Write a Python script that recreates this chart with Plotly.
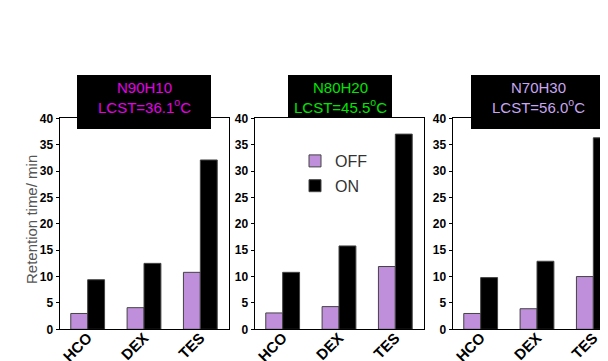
import plotly.graph_objects as go

# The page is drawn with an 8 px body margin; figure is sized to fill the rest
OFFSET = 8
W, H = 608 - OFFSET, 361 - OFFSET

categories = ["HCO", "DEX", "TES"]
panel_names = ["N90H10", "N80H20", "N70H30"]
lcst_labels = ["36.1", "45.5", "56.0"]
off_values = [
    [3.0, 4.1, 10.8],
    [3.1, 4.3, 11.9],
    [3.0, 3.9, 10.0],
]
on_values = [
    [9.4, 12.5, 32.1],
    [10.8, 15.8, 37.0],
    [9.8, 12.9, 36.3],
]
y_ticks = [0, 5, 10, 15, 20, 25, 30, 35, 40]

title_colors = ["#e600e6", "#00e600", "#c8a6f2"]
OFF_COLOR = "#bf8fdb"
ON_COLOR = "#000000"
FONT = "Liberation Sans, Arial, sans-serif"

def px(x):
    return (x - OFFSET) / W

def py(y):
    return 1 - (y - OFFSET) / H

# plot area geometry in page pixels
x_domains = [(59.5, 228.5), (254.5, 424.0), (452.5, 608.0)]
y_top, y_bot = 118.3, 329.3
cat_px = 169.0 / 3

fig = go.Figure()
for i in range(3):
    ax = "" if i == 0 else str(i + 1)
    fig.add_trace(go.Bar(
        x=categories, y=off_values[i], name="OFF",
        xaxis="x" + ax, yaxis="y" + ax,
        marker=dict(color=OFF_COLOR, line=dict(color="#444444", width=1)),
        legendgroup="off", showlegend=(i == 1),
    ))
    fig.add_trace(go.Bar(
        x=categories, y=on_values[i], name="ON",
        xaxis="x" + ax, yaxis="y" + ax,
        marker=dict(color=ON_COLOR, line=dict(color="#444444", width=1)),
        legendgroup="on", showlegend=(i == 1),
    ))

layout = dict(
    width=W, height=H,
    margin=dict(l=0, r=0, t=0, b=0, autoexpand=False),
    paper_bgcolor="white", plot_bgcolor="white",
    barmode="group", bargap=0.4, bargroupgap=0,
    font=dict(family=FONT, color="#000"),
    showlegend=True,
    legend=dict(
        x=px(295), y=py(144), xanchor="left", yanchor="top",
        bgcolor="rgba(0,0,0,0)", font=dict(size=16, color="#333333", family=FONT),
        tracegroupgap=1, itemwidth=30,
    ),
)

shapes = []
annotations = []
for i in range(3):
    ax = "" if i == 0 else str(i + 1)
    x0, x1 = x_domains[i]
    width_px = x1 - x0
    xr = [-0.5, -0.5 + width_px / cat_px]
    layout["xaxis" + ax] = dict(
        domain=[px(x0), min(1.0, px(x1))], range=xr, anchor="y" + ax, automargin=False,
        showline=True, linecolor="black", linewidth=1, mirror=True,
        ticks="", tickangle=-45, showgrid=False, zeroline=False,
        ticklabelstandoff=-7,
        tickfont=dict(size=15, family=FONT, color="#000", weight="bold"),
    )
    layout["yaxis" + ax] = dict(
        domain=[py(y_bot), py(y_top)], range=[0, 40], anchor="x" + ax, automargin=False,
        tickvals=y_ticks,
        showline=True, linecolor="black", linewidth=1, mirror=(i < 2),
        ticks="outside", ticklen=3, tickcolor="black",
        showgrid=False, zeroline=False,
        tickfont=dict(size=12, family=FONT, color="#000", weight="bold"),
    )

# title boxes (page pixels)
boxes = [(77, 211, 75, 129), (288, 392, 75, 118), (471, 605, 75, 129)]
for i, (bx0, bx1, by0, by1) in enumerate(boxes):
    shapes.append(dict(type="rect", xref="paper", yref="paper",
                       x0=px(bx0), x1=px(bx1), y0=py(by1), y1=py(by0),
                       fillcolor="black", line=dict(width=0), layer="above"))
    annotations.append(dict(
        xref="paper", yref="paper", x=px((bx0 + bx1) / 2), y=py(97.5),
        xanchor="center", yanchor="middle", showarrow=False,
        text=f"{panel_names[i]}<br>LCST={lcst_labels[i]}<sup>o</sup>C",
        font=dict(size=15, color=title_colors[i], family=FONT),
    ))

annotations.append(dict(
    xref="paper", yref="paper", x=px(31), y=py(220),
    xanchor="center", yanchor="middle", showarrow=False, textangle=-90,
    text="Retention time/ min", font=dict(size=15, color="#555555", family=FONT),
))

layout["shapes"] = shapes
layout["annotations"] = annotations
fig.update_layout(**layout)
fig.write_html("out.html")
